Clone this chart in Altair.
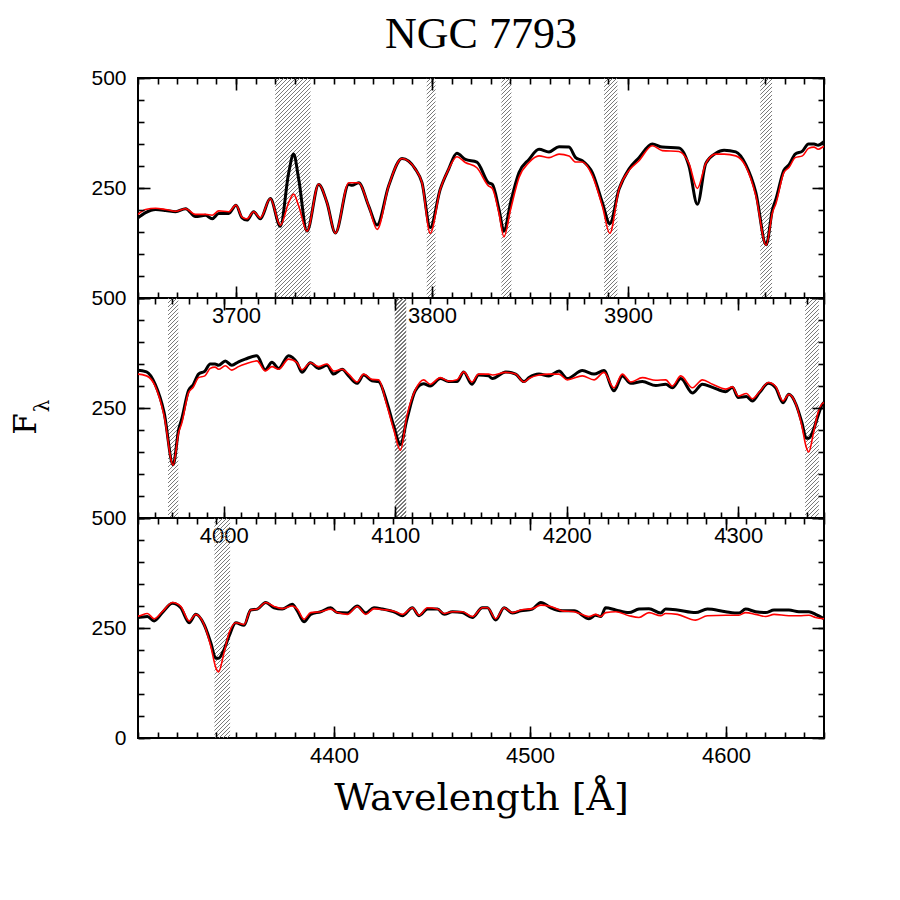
import altair as alt
import pandas as pd

# ---------------- data ----------------
wave = [3650.0, 3653.9, 3659.0, 3664.1, 3669.2, 3674.3, 3679.3, 3684.4, 3687.8, 3691.2,
        3696.3, 3700.0, 3703.1, 3705.6, 3709.0, 3712.4, 3717.5, 3722.6, 3726.9, 3729.4,
        3732.0, 3736.2, 3742.2, 3746.4, 3750.7, 3757.5, 3759.2, 3762.6, 3767.7, 3772.0,
        3777.9, 3784.7, 3791.5, 3794.9, 3799.1, 3804.2, 3808.5, 3812.7, 3817.0, 3822.9,
        3828.8, 3830.8, 3834.2, 3836.7, 3840.1, 3844.4, 3849.5, 3854.6, 3859.7, 3864.8,
        3869.9, 3873.3, 3876.7, 3881.8, 3886.9, 3890.7, 3895.4, 3900.5, 3905.6, 3912.4,
        3917.5, 3926.0, 3931.1, 3935.4, 3939.7, 3944.8, 3949.0, 3955.0, 3960.1, 3965.2,
        3970.5, 3973.7, 3975.5, 3979.5, 3982.2, 3985.3, 3989.0, 3992.1, 3994.9, 3997.0,
        4000.9, 4004.7, 4008.6, 4012.5, 4019.3, 4024.2, 4028.1, 4032.0, 4037.8, 4042.7,
        4045.6, 4050.5, 4055.3, 4060.2, 4064.1, 4069.0, 4072.8, 4077.7, 4081.6, 4086.4,
        4090.3, 4095.2, 4099.1, 4103.0, 4106.8, 4111.7, 4116.5, 4120.4, 4126.3, 4131.1,
        4136.0, 4139.9, 4144.7, 4148.6, 4154.4, 4156.6, 4164.4, 4170.2, 4175.0, 4178.0,
        4183.8, 4189.6, 4195.5, 4200.3, 4209.1, 4215.9, 4221.7, 4227.5, 4232.4, 4237.3,
        4244.1, 4251.9, 4257.7, 4261.6, 4266.5, 4273.3, 4279.1, 4285.0, 4292.7, 4296.6,
        4300.0, 4304.8, 4308.2, 4312.4, 4317.6, 4321.8, 4326.1, 4329.5, 4333.7, 4337.1,
        4339.7, 4341.1, 4343.9, 4346.5, 4349.9, 4354.1, 4357.5, 4360.9, 4365.1, 4369.4,
        4373.6, 4378.7, 4381.3, 4384.7, 4388.1, 4393.2, 4398.3, 4401.7, 4406.8, 4411.9,
        4416.2, 4420.4, 4424.7, 4431.5, 4434.9, 4440.0, 4443.4, 4447.7, 4452.8, 4456.2,
        4460.4, 4465.5, 4470.6, 4475.7, 4478.3, 4482.5, 4486.8, 4491.0, 4495.3, 4501.2,
        4505.5, 4510.6, 4516.5, 4522.5, 4530.1, 4533.5, 4536.1, 4538.6, 4543.7, 4550.5,
        4555.6, 4560.7, 4566.7, 4569.2, 4575.2, 4584.5, 4590.5, 4599.8, 4606.6, 4610.0,
        4615.1, 4620.2, 4624.5, 4632.1, 4637.2, 4642.3, 4645.7, 4650.0]

flux_obs = [182, 194, 201, 199, 196, 203, 185, 188, 180, 192,
            192, 211, 182, 177, 196, 180, 226, 163, 285, 327,
            270, 152, 258, 217, 148, 258, 256, 262, 209, 166,
            255, 317, 293, 262, 160, 247, 293, 329, 315, 309,
            262, 258, 201, 152, 217, 285, 315, 338, 332, 344,
            343, 319, 312, 285, 217, 169, 247, 293, 319, 350,
            343, 341, 300, 213, 306, 329, 336, 332, 303, 240,
            121, 201, 225, 290, 303, 327, 334, 350, 350, 347,
            357, 347, 355, 361, 369, 337, 354, 340, 369, 353,
            331, 353, 340, 347, 327, 338, 323, 306, 325, 312,
            310, 262, 209, 167, 224, 289, 305, 300, 317, 310,
            310, 332, 304, 325, 323, 317, 332, 327, 310, 319,
            327, 323, 334, 317, 335, 327, 335, 289, 323, 306,
            310, 301, 304, 296, 317, 284, 304, 297, 287, 297,
            274, 276, 266, 285, 306, 296, 262, 281, 258, 217,
            181, 181, 201, 232, 262, 256, 291, 293, 308, 296,
            293, 304, 289, 264, 281, 287, 296, 285, 284, 300,
            284, 296, 293, 285, 278, 296, 278, 293, 293, 281,
            287, 285, 274, 296, 296, 268, 296, 284, 289, 293,
            308, 296, 289, 289, 271, 279, 276, 296, 291, 285,
            293, 294, 284, 293, 291, 285, 293, 287, 284, 293,
            287, 285, 291, 291, 287, 287, 281, 271]

flux_mod = [190, 201, 204, 201, 197, 203, 190, 190, 188, 198,
            196, 211, 184, 180, 196, 182, 226, 165, 217, 236,
            209, 152, 259, 217, 147, 262, 262, 262, 209, 156,
            255, 317, 293, 262, 147, 247, 293, 321, 308, 296,
            255, 249, 192, 139, 201, 274, 308, 323, 319, 327,
            323, 309, 309, 278, 209, 147, 247, 290, 312, 346,
            335, 333, 306, 249, 306, 327, 327, 323, 299, 233,
            120, 194, 215, 285, 297, 319, 323, 340, 343, 338,
            346, 336, 344, 350, 357, 334, 344, 338, 361, 353,
            337, 353, 344, 350, 334, 338, 327, 309, 327, 315,
            314, 255, 201, 154, 232, 291, 314, 304, 319, 311,
            314, 332, 309, 327, 327, 325, 331, 327, 309, 317,
            325, 327, 327, 314, 323, 314, 331, 296, 327, 309,
            319, 313, 314, 300, 323, 296, 314, 304, 293, 298,
            277, 283, 271, 287, 308, 299, 266, 281, 258, 209,
            160, 150, 194, 239, 262, 258, 291, 293, 308, 299,
            294, 300, 293, 270, 285, 287, 293, 285, 281, 299,
            281, 294, 292, 287, 281, 296, 279, 296, 293, 283,
            287, 287, 276, 296, 296, 271, 296, 285, 291, 294,
            302, 299, 289, 287, 276, 281, 276, 285, 287, 278,
            274, 285, 278, 283, 281, 268, 278, 279, 279, 285,
            281, 276, 281, 278, 278, 279, 274, 271]

band_lo = [3720.0, 3797.3, 3835.4, 3887.8, 3967.5, 4099.7, 4339.0]
band_hi = [3738.0, 3801.8, 3840.5, 3894.6, 3973.5, 4106.4, 4347.0]

panel_lo = [3650, 3950, 4300]
panel_hi = [4000, 4350, 4650]
major_x = [[3700, 3800, 3900], [4000, 4100, 4200, 4300], [4400, 4500, 4600]]
label_y = [[250, 500], [250, 500], [0, 250, 500]]
major_y = [0, 250, 500]
minor_y = [0, 50, 100, 150, 200, 250, 300, 350, 400, 450, 500]

title_text = "NGC 7793"
x_title = "Wavelength [Å]"

# ---------------- chart ----------------
W, H = 686, 220
spec = pd.DataFrame({"wave": wave, "obs": flux_obs, "mod": flux_mod})


def hatch_fill(w, h, period=4.0, frac=0.32, ink="#7a7a7a", gap="rgba(255,255,255,0)"):
    L = w + h
    k = L / (w * w + h * h)
    stops = []
    j = 0
    while True:
        a = j * period / L
        if a >= 1:
            break
        b = min((j + frac) * period / L, 1.0)
        c = min((j + 1) * period / L, 1.0)
        stops += [alt.GradientStop(offset=a, color=ink), alt.GradientStop(offset=b, color=ink),
                  alt.GradientStop(offset=b, color=gap), alt.GradientStop(offset=c, color=gap)]
        j += 1
    return alt.LinearGradient(gradient="linear", stops=stops, x1=0, y1=0, x2=w * k, y2=h * k)


def tick_axis(orient, values, size, offset):
    return alt.Axis(orient=orient, values=values, tickSize=size, offset=offset, labels=False,
                    domain=False, grid=False, ticks=True, title=None, tickColor="black",
                    tickWidth=1.6, zindex=2)


def panel(i):
    lo, hi = panel_lo[i], panel_hi[i]
    pxA = W / (hi - lo)
    xs = alt.Scale(domain=[lo, hi], nice=False, zero=False)
    ys = alt.Scale(domain=[0, 500], nice=False)
    minor_x = list(range(lo, hi + 1, 10))
    layers = []
    for blo, bhi in zip(band_lo, band_hi):
        if bhi <= lo or blo >= hi:
            continue
        a, b = max(blo, lo), min(bhi, hi)
        layers.append(
            alt.Chart(pd.DataFrame({"lo": [blo], "hi": [bhi]}))
            .mark_rect(fill=hatch_fill((b - a) * pxA, H), clip=True)
            .encode(x=alt.X("lo:Q", scale=xs, axis=None), x2="hi:Q",
                    y=alt.Y(datum=0, scale=ys, axis=None), y2=alt.Y2(datum=500))
        )
    sub = alt.Chart(spec).transform_filter(
        alt.FieldRangePredicate(field="wave", range=[lo - 15, hi + 15]))

    xlab_kw = dict(orient="bottom", values=major_x[i], ticks=False, domain=False, grid=False,
                   labelFont="Liberation Sans", labelFontSize=22, labelColor="black",
                   labelPadding=7, labelFlush=False, labelOverlap=False, format="d")
    if i == 2:
        xlab_kw.update(title=x_title, titleFont="DejaVu Serif", titleFontSize=38,
                       titleFontWeight="normal", titleColor="black", titlePadding=13)
    else:
        xlab_kw.update(title=None)
    xlab = alt.Axis(**xlab_kw)
    ylab = alt.Axis(orient="left", values=label_y[i], ticks=False, domain=False, grid=False,
                    labelFont="Liberation Sans", labelFontSize=21, labelColor="black",
                    labelPadding=12, labelFlush=False, labelOverlap=False, format="d", title=None)

    black = sub.mark_line(color="black", strokeWidth=3, clip=True, interpolate="monotone").encode(
        x=alt.X("wave:Q", scale=xs, axis=xlab), y=alt.Y("obs:Q", scale=ys, axis=ylab))
    red = sub.mark_line(color="#ff0000", strokeWidth=1.6, clip=True, interpolate="monotone").encode(
        x=alt.X("wave:Q", scale=xs, axis=tick_axis("top", major_x[i], 12, -H)),
        y=alt.Y("mod:Q", scale=ys, axis=tick_axis("right", major_y, 12, -W)))
    inv1 = sub.mark_point(opacity=0, clip=True).encode(
        x=alt.X("wave:Q", scale=xs, axis=tick_axis("top", minor_x, 6, -H)),
        y=alt.Y("mod:Q", scale=ys, axis=tick_axis("right", minor_y, 6, -W)))
    inv2 = sub.mark_point(opacity=0, clip=True).encode(
        x=alt.X("wave:Q", scale=xs, axis=tick_axis("bottom", major_x[i], 12, -H)),
        y=alt.Y("mod:Q", scale=ys, axis=tick_axis("left", major_y, 12, -W)))
    inv3 = sub.mark_point(opacity=0, clip=True).encode(
        x=alt.X("wave:Q", scale=xs, axis=tick_axis("bottom", minor_x, 6, -H)),
        y=alt.Y("mod:Q", scale=ys, axis=tick_axis("left", minor_y, 6, -W)))
    layers += [black, red, inv1, inv2, inv3]

    if i == 1:
        layers.append(alt.Chart(pd.DataFrame({"t": ["F"]})).mark_text(
            angle=270, font="DejaVu Serif", fontSize=31, color="black", align="center",
            baseline="middle").encode(text="t:N", x=alt.value(-111), y=alt.value(126)))
        layers.append(alt.Chart(pd.DataFrame({"t": ["λ"]})).mark_text(
            angle=270, font="DejaVu Serif", fontSize=20, color="black", align="center",
            baseline="middle").encode(text="t:N", x=alt.value(-95), y=alt.value(108)))

    return alt.layer(*layers).resolve_axis(x="independent", y="independent").properties(
        width=W, height=H)


chart = alt.vconcat(panel(0), panel(1), panel(2), spacing=0, bounds="flush").properties(
    title=alt.TitleParams(title_text, font="Liberation Serif", fontSize=44, fontWeight="normal",
                          color="black", anchor="middle", frame="group", offset=9),
    padding={"left": 2, "top": 5, "right": 5, "bottom": 5},
).configure_view(stroke="black", strokeWidth=2)

chart.save("out.html", embed_options={"renderer": "svg", "actions": False})
